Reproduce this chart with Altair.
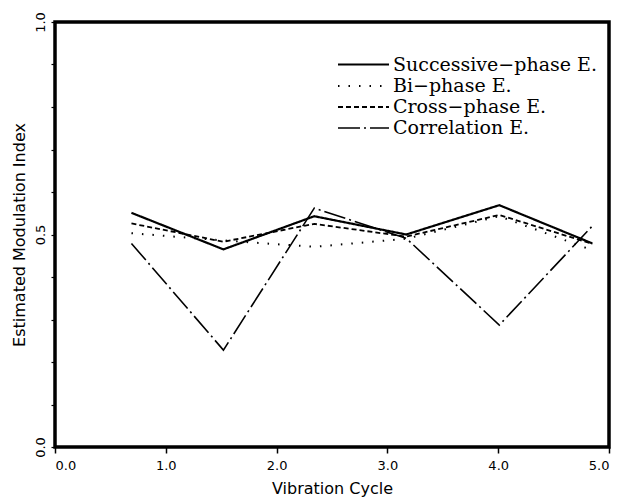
import altair as alt
import pandas as pd

cycle = [0.69, 1.52, 2.34, 3.17, 4.01, 4.85]
successive = [0.551, 0.465, 0.543, 0.500, 0.569, 0.479]
biphase = [0.503, 0.486, 0.471, 0.490, 0.543, 0.463]
cross = [0.526, 0.483, 0.525, 0.495, 0.546, 0.478]
correlation = [0.479, 0.228, 0.562, 0.491, 0.287, 0.520]

series_names = ["Successive\u2212phase E.", "Bi\u2212phase E.", "Cross\u2212phase E.", "Correlation E."]
series_vals = [successive, biphase, cross, correlation]

rows = []
for name, vals in zip(series_names, series_vals):
    for xv, yv in zip(cycle, vals):
        rows.append({"cycle": xv, "index": yv, "series": name})
df = pd.DataFrame(rows)

y_ticks = [round(i * 0.1, 1) for i in range(11)]

chart = alt.Chart(df).mark_line(color="black").encode(
    x=alt.X("cycle:Q", scale=alt.Scale(domain=[0, 5], nice=False, zero=False),
            axis=alt.Axis(title="Vibration Cycle", values=[0, 1, 2, 3, 4, 5], format=".1f",
                          grid=False, domain=False, tickSize=6, tickWidth=1.5, tickColor="black",
                          labelFont="DejaVu Sans", labelFontSize=13, labelColor="black",
                          titleFont="DejaVu Sans", titleFontSize=16, titleFontWeight="normal",
                          titleColor="black", labelPadding=6, titlePadding=8)),
    y=alt.Y("index:Q", scale=alt.Scale(domain=[0, 1], nice=False),
            axis=alt.Axis(title="Estimated Modulation Index", values=y_ticks,
                          labelExpr="abs(round(datum.value*10)) % 5 == 0 ? format(datum.value, '.1f') : ''",
                          grid=False, domain=False, tickSize=4, tickWidth=1.2, tickColor="black",
                          labelAngle=270, labelAlign="center", labelBaseline="bottom",
                          labelFont="DejaVu Sans", labelFontSize=13, labelColor="black",
                          titleFont="DejaVu Sans", titleFontSize=16, titleFontWeight="normal",
                          titleColor="black", labelPadding=4, titlePadding=7)),
    strokeDash=alt.StrokeDash("series:N",
        scale=alt.Scale(domain=series_names,
                        range=[[1, 0], [1.5, 9], [5, 3], [22, 4, 2, 4]]),
        legend=alt.Legend(title=None, orient="none", legendX=297, legendY=31,
                          symbolType="M-2.55,0H2.55", symbolSize=400, symbolStrokeColor="black",
                          symbolStrokeWidth=1.6, labelOffset=18, rowPadding=0,
                          labelFont="DejaVu Serif", labelFontSize=19, labelColor="black",
                          labelLimit=400)),
    strokeWidth=alt.StrokeWidth("series:N",
        scale=alt.Scale(domain=series_names, range=[2.2, 1.6, 1.6, 1.6]),
        legend=None),
).properties(
    width=554, height=425,
    autosize=alt.AutoSizeParams(type="none"),
    padding={"left": 55, "top": 22, "right": 14, "bottom": 51},
).configure(background="white").configure_view(stroke="black", strokeWidth=3.5)

chart.save("out.html", embed_options={"renderer": "svg", "actions": False})
